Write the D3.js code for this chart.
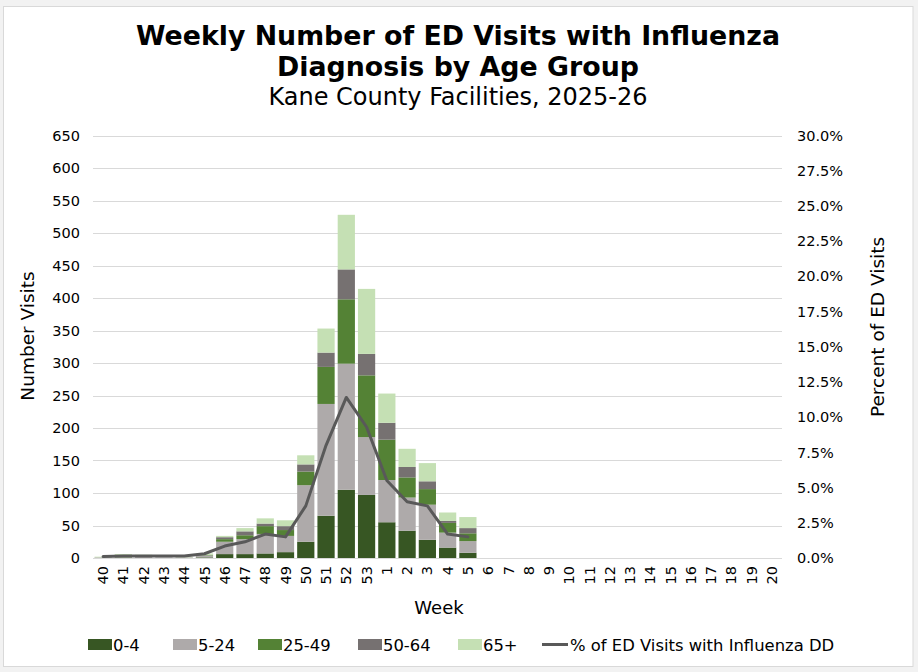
<!DOCTYPE html>
<html>
<head>
<meta charset="utf-8">
<script src="https://cdn.jsdelivr.net/npm/d3@7"></script>
<style>
  html, body { margin: 0; padding: 0; background: #f2f2f2; }
  svg { display: block; }
  text { font-family: Verdana, "DejaVu Sans", sans-serif; fill: #000; }
</style>
</head>
<body>
<svg id="chart" width="918" height="672"></svg>
<script>
// ---- Data ----
const weeks = ["40","41","42","43","44","45","46","47","48","49","50","51","52","53",
  "1","2","3","4","5","6","7","8","9","10","11","12","13","14","15","16","17","18","19","20"];
const ageGroups = ["0-4", "5-24", "25-49", "50-64", "65+"];
const age0_4   = [0, 0, 0, 0, 0, 1, 6, 6, 7, 9, 25, 65, 105, 97, 55, 42, 28, 16, 8];
const age5_24  = [1, 1, 2, 1, 1, 3, 19, 23, 30, 25, 87, 172, 194, 89, 65, 51, 54, 23, 18];
const age25_49 = [0, 4, 1, 0, 0, 1, 4, 6, 12, 9, 21, 57, 99, 95, 62, 31, 24, 15, 12];
const age50_64 = [0, 0, 0, 0, 0, 0, 3, 6, 4, 6, 11, 22, 46, 33, 26, 16, 12, 3, 8];
const age65    = [1, 1, 2, 0, 1, 2, 2, 5, 8, 9, 14, 37, 84, 100, 45, 28, 28, 13, 17];
const pctILI   = [0.1, 0.15, 0.15, 0.15, 0.15, 0.3, 0.85, 1.15, 1.7, 1.5, 3.7, 8.0, 11.4, 9.3, 5.5, 4.0, 3.7, 1.7, 1.5];
const leftTicks = d3.range(0, 651, 50);
const rightTicks = d3.range(0, 0.3001, 0.025);
const lineLabel = "% of ED Visits with Influenza DD";
const colors = ["#375623", "#AEAAAA", "#548235", "#767171", "#C5E0B4"];

// ---- Build table ----
const series = [age0_4, age5_24, age25_49, age50_64, age65];
const rows = weeks.slice(0, age0_4.length).map((w, i) => {
  const r = { week: w };
  ageGroups.forEach((g, k) => r[g] = series[k][i]);
  return r;
});
const stacked = d3.stack().keys(ageGroups)(rows);

// ---- Layout ----
const svg = d3.select("#chart");
const FONT = "Verdana, 'DejaVu Sans', sans-serif";

svg.append("rect").attr("x", 3.5).attr("y", 6.5).attr("width", 909.5).attr("height", 660)
  .attr("fill", "#fff").attr("stroke", "#d9d9d9").attr("stroke-width", 1);

const x = d3.scaleBand().domain(weeks).range([93, 782]).paddingInner(0.15).paddingOuter(0.075);
const y = d3.scaleLinear().domain([0, 650]).range([558, 135.5]);
const y2 = d3.scaleLinear().domain([0, 0.30]).range([558, 135.5]);

// gridlines
svg.append("g").selectAll("line").data(leftTicks).join("line")
  .attr("x1", 93).attr("x2", 782)
  .attr("y1", d => Math.round(y(d)) + 0.5).attr("y2", d => Math.round(y(d)) + 0.5)
  .attr("stroke", "#d9d9d9").attr("stroke-width", 1);

// left axis
const gl = svg.append("g").attr("transform", "translate(93,0)")
  .call(d3.axisLeft(y).tickValues(leftTicks).tickSize(0).tickPadding(13));
gl.select(".domain").remove();
gl.selectAll("text").style("font-size", "14.5px").attr("fill", "#000").style("font-family", FONT);

// right axis
const gr = svg.append("g").attr("transform", "translate(782,0)")
  .call(d3.axisRight(y2).tickValues(rightTicks).tickSize(0).tickPadding(15).tickFormat(d3.format(".1%")));
gr.select(".domain").remove();
gr.selectAll("text").style("font-size", "14.5px").attr("fill", "#000").style("font-family", FONT);

// bottom axis
const gb = svg.append("g").attr("transform", "translate(0,558)")
  .call(d3.axisBottom(x).tickSize(0).tickPadding(0));
gb.select(".domain").remove();
gb.selectAll("text")
  .attr("transform", "rotate(-90)")
  .attr("x", -8).attr("y", 0).attr("dy", "0.35em")
  .style("text-anchor", "end")
  .style("font-size", "14.5px").attr("fill", "#000").style("font-family", FONT);

// bars
svg.append("g").selectAll("g").data(stacked).join("g")
  .attr("fill", (d, i) => colors[i])
  .selectAll("rect").data(d => d).join("rect")
  .attr("x", d => x(d.data.week))
  .attr("width", x.bandwidth())
  .attr("y", d => y(d[1]))
  .attr("height", d => Math.max(0, y(d[0]) - y(d[1])));

// baseline
svg.append("line").attr("x1", 93).attr("x2", 782).attr("y1", 558.5).attr("y2", 558.5)
  .attr("stroke", "#d9d9d9").attr("stroke-width", 1);

// line
const line = d3.line()
  .x((d, i) => x(weeks[i]) + x.bandwidth() / 2)
  .y(d => y2(d / 100));
svg.append("path").datum(pctILI).attr("d", line)
  .attr("fill", "none").attr("stroke", "#595959").attr("stroke-width", 3)
  .attr("stroke-linejoin", "round").attr("stroke-linecap", "round");

// titles
svg.append("text").attr("x", 458).attr("y", 45).attr("text-anchor", "middle")
  .style("font-size", "26.8px").style("font-weight", "bold")
  .text("Weekly Number of ED Visits with Influenza");
svg.append("text").attr("x", 458).attr("y", 76).attr("text-anchor", "middle")
  .style("font-size", "26.8px").style("font-weight", "bold")
  .text("Diagnosis by Age Group");
svg.append("text").attr("x", 458).attr("y", 105).attr("text-anchor", "middle")
  .style("font-size", "24px")
  .text("Kane County Facilities, 2025-26");

// axis titles
svg.append("text").attr("transform", "translate(34,336) rotate(-90)").attr("text-anchor", "middle")
  .style("font-size", "18.5px").text("Number Visits");
svg.append("text").attr("transform", "translate(884,327) rotate(-90)").attr("text-anchor", "middle")
  .style("font-size", "18.5px").text("Percent of ED Visits");
svg.append("text").attr("x", 439).attr("y", 614).attr("text-anchor", "middle")
  .style("font-size", "18px").text("Week");

// legend
const legendX = [88, 173, 258, 358, 458];
const lg = svg.append("g");
ageGroups.forEach((g, i) => {
  lg.append("rect").attr("x", legendX[i]).attr("y", 639).attr("width", 24).attr("height", 11).attr("fill", colors[i]);
  lg.append("text").attr("x", legendX[i] + 25).attr("y", 651).style("font-size", "16.4px").text(g);
});
lg.append("line").attr("x1", 542).attr("x2", 568).attr("y1", 644.5).attr("y2", 644.5)
  .attr("stroke", "#595959").attr("stroke-width", 3);
lg.append("text").attr("x", 570).attr("y", 651).style("font-size", "16.4px").text(lineLabel);
</script>
</body>
</html>
